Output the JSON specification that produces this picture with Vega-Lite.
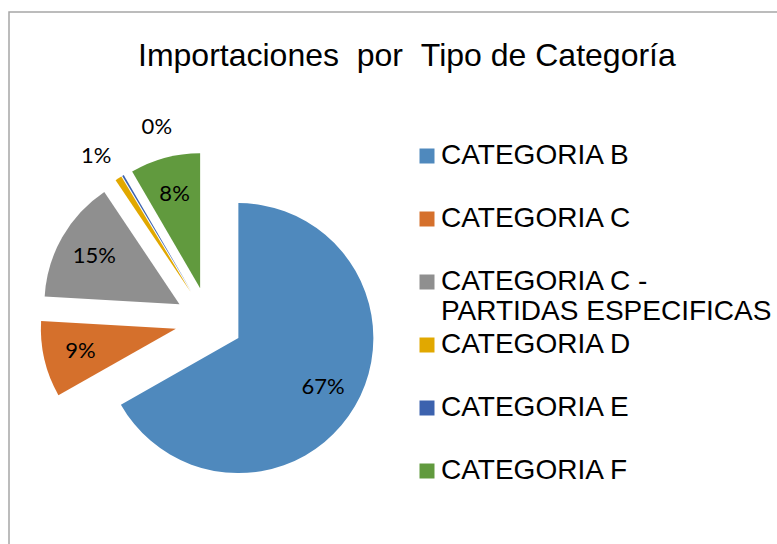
{
  "$schema": "https://vega.github.io/schema/vega-lite/v6.json",
  "autosize": {"type": "none"},
  "width": 776,
  "height": 540,
  "padding": {"left": 9, "top": 12, "right": -8, "bottom": -8},
  "background": "white",
  "view": {"stroke": "#A6A6A6", "strokeWidth": 1.5, "fill": "white"},
  "title": {
    "text": "Importaciones \u00a0por \u00a0Tipo de Categoría",
    "font": "Liberation Sans",
    "fontSize": 32,
    "fontWeight": "normal",
    "color": "black",
    "anchor": "start",
    "frame": "group",
    "dx": 129,
    "offset": -86,
    "baseline": "alphabetic"
  },
  "data": {
    "values": [
      {"category": "CATEGORIA B", "value": 0.668},
      {"category": "CATEGORIA C", "value": 0.091},
      {"category": "CATEGORIA C - PARTIDAS ESPECIFICAS", "value": 0.147},
      {"category": "CATEGORIA D", "value": 0.008},
      {"category": "CATEGORIA E", "value": 0.002},
      {"category": "CATEGORIA F", "value": 0.084}
    ]
  },
  "transform": [
    {"window": [{"op": "row_number", "as": "idx"}]},
    {"stack": "value", "groupby": [], "sort": [{"field": "idx"}], "as": ["v0", "v1"]},
    {"calculate": "(datum.v0 + datum.v1) / 2", "as": "mid"}
  ],
  "layer": [
    {
      "mark": {
        "type": "arc",
        "x": 200,
        "y": 309,
        "outerRadius": 135,
        "xOffset": {"expr": "34*sin(PI*(datum.v0+datum.v1))"},
        "yOffset": {"expr": "-34*cos(PI*(datum.v0+datum.v1))"}
      },
      "encoding": {
        "theta": {"field": "v0", "type": "quantitative", "scale": {"domain": [0, 1]}, "stack": null},
        "theta2": {"field": "v1"},
        "color": {
          "field": "category",
          "type": "nominal",
          "sort": null,
          "scale": {
            "domain": ["CATEGORIA B", "CATEGORIA C", "CATEGORIA C - PARTIDAS ESPECIFICAS", "CATEGORIA D", "CATEGORIA E", "CATEGORIA F"],
            "range": ["#4F89BD", "#D5702C", "#8F8F8F", "#E1A800", "#3C62AE", "#619A3E"]
          },
          "legend": {
            "orient": "none",
            "legendX": 404,
            "legendY": 130,
            "title": null,
            "padding": 0,
            "symbolType": "square",
            "symbolSize": 225,
            "symbolStrokeWidth": 0,
            "labelFont": "Liberation Sans",
            "labelFontSize": 28,
            "labelColor": "black",
            "labelOffset": 0,
            "labelLimit": 400,
            "gridAlign": "all",
            "rowPadding": 5,
            "labelExpr": "datum.label == 'CATEGORIA C - PARTIDAS ESPECIFICAS' ? ['CATEGORIA C -', 'PARTIDAS ESPECIFICAS'] : datum.label"
          }
        }
      }
    },
    {
      "transform": [{"filter": "datum.value >= 0.05"}],
      "mark": {
        "type": "text",
        "x": 200,
        "y": 309,
        "radius": 98,
        "font": "Lato",
        "fontSize": 22,
        "color": "black",
        "xOffset": {"expr": "34*sin(PI*(datum.v0+datum.v1))"},
        "yOffset": {"expr": "-34*cos(PI*(datum.v0+datum.v1))"}
      },
      "encoding": {
        "theta": {"field": "mid", "type": "quantitative", "scale": {"domain": [0, 1]}, "stack": null},
        "text": {"field": "value", "type": "quantitative", "format": ".0%"}
      }
    },
    {
      "transform": [{"filter": "datum.category == 'CATEGORIA D'"}],
      "mark": {
        "type": "text",
        "x": 200,
        "y": 309,
        "radius": 166,
        "thetaOffset": -0.04,
        "font": "Lato",
        "fontSize": 22,
        "color": "black",
        "xOffset": {"expr": "34*sin(PI*(datum.v0+datum.v1))"},
        "yOffset": {"expr": "-34*cos(PI*(datum.v0+datum.v1))"}
      },
      "encoding": {
        "theta": {"field": "mid", "type": "quantitative", "scale": {"domain": [0, 1]}, "stack": null},
        "text": {"field": "value", "type": "quantitative", "format": ".0%"}
      }
    },
    {
      "transform": [{"filter": "datum.category == 'CATEGORIA E'"}],
      "mark": {
        "type": "text",
        "x": 200,
        "y": 309,
        "radius": 168,
        "thetaOffset": 0.325,
        "font": "Lato",
        "fontSize": 22,
        "color": "black",
        "xOffset": {"expr": "34*sin(PI*(datum.v0+datum.v1))"},
        "yOffset": {"expr": "-34*cos(PI*(datum.v0+datum.v1))"}
      },
      "encoding": {
        "theta": {"field": "mid", "type": "quantitative", "scale": {"domain": [0, 1]}, "stack": null},
        "text": {"field": "value", "type": "quantitative", "format": ".0%"}
      }
    }
  ],
  "config": {
    "view": {"stroke": "#A6A6A6", "strokeWidth": 1.5}
  }
}
